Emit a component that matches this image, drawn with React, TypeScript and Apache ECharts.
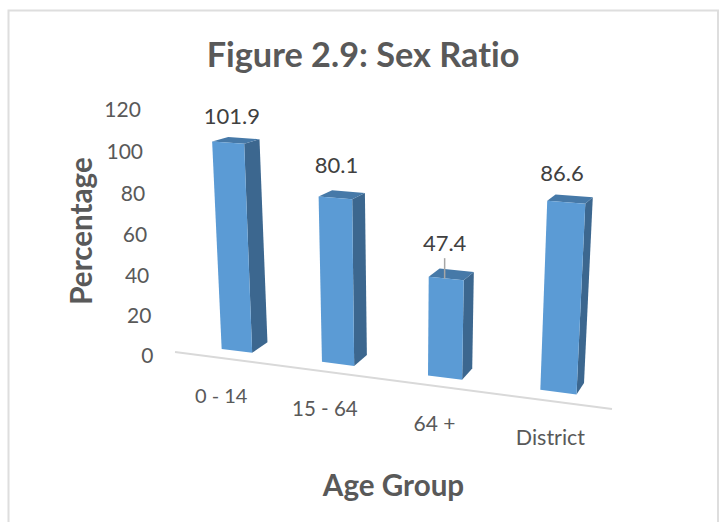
import React, { useEffect, useRef } from "react";
import * as echarts from "echarts";

const categories = ["0 - 14", "15 - 64", "64 +", "District"];
const values = [101.9, 80.1, 47.4, 86.6];
const valueTicks = [0, 20, 40, 60, 80, 100, 120];
const titleText = "Figure 2.9: Sex Ratio";
const xTitle = "Age Group";
const yTitle = "Percentage";

const FONT = "Lato, Carlito, Calibri, sans-serif";
const GL = 100, GT = 100, GW = 400, GH = 240;
const HALF = 0.155;
const LEADER_INDEX = 2;

// plain grid coordinates -> (band position t, value v)
const toTV = (p: number[]) => [(p[0] - GL) / (GW / categories.length) - 0.5, ((GT + GH - p[1]) / GH) * 120];

// perspective of the front plane of the bars
function project(t: number, v: number, depth = 0): [number, number] {
  const w = 1 - 0.0273 * t - 0.0005 * v;
  const x = (91.92 * t - 0.2 * v + 236.85) / w;
  const y = (3.06 * t - 2.115 * v + 350.85) / w;
  const dx = 15.7 - 2.6 * t;
  const dy = -(10.6 + 0.3 * t) + 0.06 * v;
  return [x + depth * dx, y + depth * dy];
}
const wallY = (v: number) => (354.3 - 2.088 * v) / (1 - 0.00033 * v);

// distance from a bar's rear top edge up to the middle of its value label
const labelLift = (i: number) => (i === LEADER_INDEX ? 28 : i === 1 ? 27 : 23);

const renderBar = (params: any, api: any) => {
  const i = api.value(0);
  const val = api.value(1);
  const [t, v] = toTV(api.coord([i, val]));
  const [, v0] = toTV(api.coord([i, 0]));
  const l = t - HALF, r = t + HALF;
  const FTL = project(l, v), FTR = project(r, v), FBL = project(l, v0), FBR = project(r, v0);
  const BTL = project(l, v, 1), BTR = project(r, v, 1), BBR = project(r, v0, 1);
  const poly = (points: number[][], fill: string) => ({ type: "polygon", shape: { points }, style: { fill } });
  const children: any[] = [
    poly([FTR, BTR, BBR, FBR], "#3c678f"),
    poly([FTL, BTL, BTR, FTR], "#4679a8"),
    poly([FTL, FTR, FBR, FBL], "#5b9bd5"),
  ];
  const anchor = project(t, v, 1);
  const lx = anchor[0] - 12;
  const ly = anchor[1] - labelLift(params.dataIndex);
  if (params.dataIndex === LEADER_INDEX) {
    children.push({
      type: "line",
      shape: { x1: lx, y1: ly + 16, x2: lx, y2: project(t, v)[1] },
      style: { stroke: "#a6a6a6", lineWidth: 1.5 },
    });
  }
  children.push({
    type: "text",
    style: { x: lx, y: ly, text: String(val), font: `22px ${FONT}`, fill: "#404040", align: "center", verticalAlign: "middle" },
  });
  return { type: "group", children };
};

const renderXLabel = (params: any, api: any) => {
  const i = api.value(0);
  const [t] = toTV(api.coord([i, 0]));
  const p = project(t, 0, -1);
  return {
    type: "text",
    style: { x: p[0], y: p[1] + 33.5, text: categories[i], font: `${20 + 0.5 * t}px ${FONT}`, fill: "#595959", align: "center", verticalAlign: "middle" },
  };
};

const renderYLabel = (params: any, api: any) => {
  const val = api.value(1);
  const [, v] = toTV(api.coord([0, val]));
  return {
    type: "text",
    style: { x: 153.5 - v * 0.105, y: wallY(v), text: String(val), font: `21px ${FONT}`, fill: "#595959", align: "right", verticalAlign: "middle" },
  };
};

export default function App() {
  const ref = useRef<HTMLDivElement>(null);
  useEffect(() => {
    document.body.style.margin = "0";
    const chart = echarts.init(ref.current!, undefined, { renderer: "svg" });
    chart.setOption({
      animation: false,
      backgroundColor: "#ffffff",
      grid: { left: GL, top: GT, width: GW, height: GH },
      xAxis: { type: "category", data: categories, show: false },
      yAxis: { type: "value", min: 0, max: 120, interval: 20, show: false },
      title: {
        text: titleText,
        left: 358,
        top: 48,
        textAlign: "center",
        textVerticalAlign: "middle",
        textStyle: { fontFamily: FONT, fontSize: 34.3, fontWeight: "bold", color: "#595959" },
      },
      graphic: [
        { type: "polyline", shape: { points: [[8.5, 522], [8.5, 10.5], [718, 10.5], [718, 522]] }, style: { fill: "none", stroke: "#dedede", lineWidth: 2 } },
        { type: "line", shape: { x1: 175, y1: 352, x2: 612, y2: 409 }, style: { stroke: "#d9d9d9", lineWidth: 2 } },
        { type: "text", x: 80, y: 231, rotation: Math.PI / 2, style: { text: yTitle, font: `bold 29.6px ${FONT}`, fill: "#595959", align: "center", verticalAlign: "middle" } },
        { type: "text", x: 393.5, y: 484, style: { text: xTitle, font: `bold 29.6px ${FONT}`, fill: "#595959", align: "center", verticalAlign: "middle" } },
      ],
      series: [
        { type: "custom", coordinateSystem: "cartesian2d", renderItem: renderYLabel, silent: true, data: valueTicks.map((v) => [0, v]) },
        { type: "custom", coordinateSystem: "cartesian2d", renderItem: renderBar, data: values.map((v, i) => [i, v]) },
        { type: "custom", coordinateSystem: "cartesian2d", renderItem: renderXLabel, silent: true, data: categories.map((_, i) => [i, 0]) },
      ],
    });
    return () => chart.dispose();
  }, []);
  return <div ref={ref} style={{ position: "absolute", left: 0, top: 0, width: 720, height: 522, fontVariantLigatures: "none" }} />;
}
